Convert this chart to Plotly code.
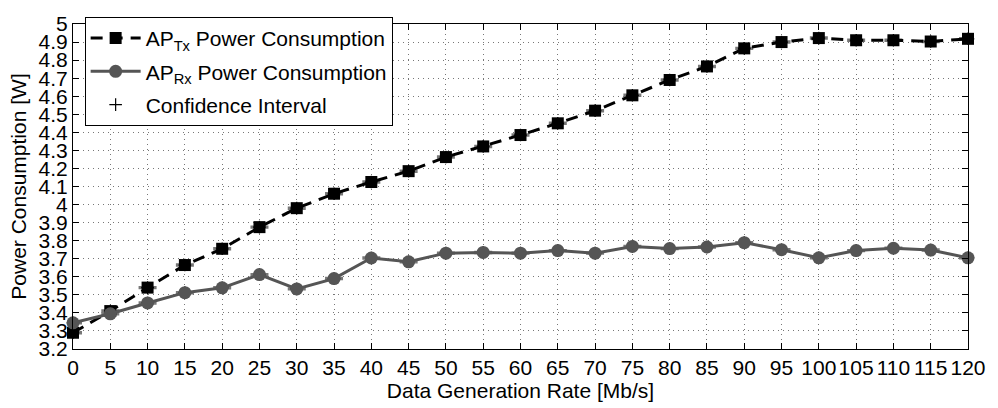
import plotly.graph_objects as go

rate = [0, 5, 10, 15, 20, 25, 30, 35, 40, 45, 50, 55, 60, 65, 70, 75, 80, 85, 90, 95, 100, 105, 110, 115, 120]
tx_power = [3.29, 3.41, 3.54, 3.665, 3.755, 3.875, 3.98, 4.06, 4.125, 4.185, 4.263, 4.322, 4.385, 4.45, 4.52,
            4.605, 4.69, 4.765, 4.865, 4.90, 4.922, 4.91, 4.91, 4.903, 4.918]
rx_power = [3.345, 3.395, 3.455, 3.512, 3.539, 3.612, 3.533, 3.59, 3.704, 3.683, 3.731, 3.735, 3.731, 3.745, 3.731,
            3.768, 3.756, 3.765, 3.789, 3.75, 3.705, 3.745, 3.758, 3.748, 3.705]
tx_ci = [0.004] * len(rate)
rx_ci = [0.004] * len(rate)

y_ticks = [round(3.2 + 0.1 * i, 1) for i in range(19)]
y_labels = [("%g" % v) for v in y_ticks]
x_ticks = list(range(0, 121, 5))

FONT = "Liberation Sans, Arial, Helvetica, sans-serif"
FS = 21

fig = go.Figure()

# Confidence interval (drawn beneath the series)
fig.add_trace(go.Scatter(
    x=rate + rate, y=tx_power + rx_power, mode="markers", name="Confidence Interval",
    legendrank=3, legendgroup="c",
    marker=dict(symbol="cross-thin", size=9, line=dict(color="black", width=1.2), color="black"),
    error_y=dict(type="data", array=tx_ci + rx_ci, width=9, thickness=2, color="#777777"),
    cliponaxis=False,
))

fig.add_trace(go.Scatter(
    x=rate, y=tx_power, mode="lines+markers", name="AP<sub>Tx</sub> Power Consumption",
    legendrank=1, legendgroup="a",
    line=dict(color="black", width=3, dash="12px,8px"),
    marker=dict(symbol="square", size=12, color="black"),
    cliponaxis=False,
))
fig.add_trace(go.Scatter(
    x=rate, y=rx_power, mode="lines+markers", name="AP<sub>Rx</sub> Power Consumption",
    legendrank=2, legendgroup="b",
    line=dict(color="#555555", width=3),
    marker=dict(symbol="circle", size=13, color="#555555"),
    cliponaxis=False,
))

axis_common = dict(
    showline=True, linecolor="black", linewidth=1, mirror="ticks",
    ticks="inside", ticklen=6, tickcolor="black",
    showgrid=True, gridcolor="#777777", gridwidth=1, griddash="1px,4px",
    zeroline=False, tickfont=dict(size=FS, color="black", family=FONT),
)

fig.update_layout(
    width=998, height=408,
    margin=dict(l=73, r=19, t=15, b=56),
    paper_bgcolor="white", plot_bgcolor="white",
    font=dict(family=FONT, size=FS, color="black"),
    xaxis=dict(range=[0, 120], tickvals=x_ticks, title=dict(text="Data Generation Rate [Mb/s]", standoff=2,
               font=dict(size=FS)), **axis_common),
    yaxis=dict(range=[3.2, 5], tickvals=y_ticks, ticktext=y_labels,
               title=dict(text="Power Consumption [W]", standoff=6, font=dict(size=FS)), **axis_common),
    legend=dict(x=0.013, y=1.022, xanchor="left", yanchor="top", bgcolor="white",
                bordercolor="black", borderwidth=1, font=dict(size=FS, color="black"),
                traceorder="grouped", tracegroupgap=3, itemwidth=50),
    showlegend=True,
)

fig.write_html("out.html")
